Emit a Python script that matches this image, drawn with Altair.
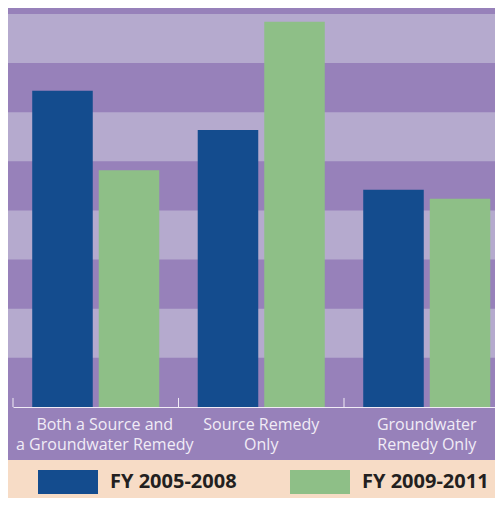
import altair as alt
import pandas as pd

categories = ["Both a Source and|a Groundwater Remedy", "Source Remedy|Only", "Groundwater|Remedy Only"]
periods = ["FY 2005-2008", "FY 2009-2011"]
values_2005_2008 = [32.2, 28.2, 22.1]
values_2009_2011 = [24.1, 39.2, 21.2]
stripe_starts = [5, 15, 25, 35]
stripe_step = 5

DARK_PURPLE = "#9781BA"
LIGHT_PURPLE = "#B5AACE"
BLUE = "#144C8E"
GREEN = "#8EBF87"
PEACH = "#F7DCC6"
LIGHT = "#F1ECF6"

rows = []
for c, v in zip(categories, values_2005_2008):
    rows.append({"category": c, "period": periods[0], "value": v})
for c, v in zip(categories, values_2009_2011):
    rows.append({"category": c, "period": periods[1], "value": v})
bars_df = pd.DataFrame(rows)
stripes_df = pd.DataFrame({"y0": stripe_starts})
cats_df = pd.DataFrame({"category": categories})

yscale = alt.Scale(domain=[0, 40.61], nice=False, zero=True)
xscale = alt.Scale(domain=categories, paddingInner=0, paddingOuter=0)

x_axis = alt.Axis(
    labelExpr="split(datum.label, '|')",
    labelAngle=0, ticks=False, domainColor=LIGHT, domainWidth=1,
    labelColor=LIGHT, labelFont="Open Sans", labelFontSize=16,
    labelLineHeight=20.5, labelPadding=9, labelLimit=400,
    labelOverlap=False, labelBound=False,
    labelOffset={"condition": {"test": "datum.value === 'Both a Source and|a Groundwater Remedy'", "value": 9}, "value": 0},
)

peach = alt.Chart(pd.DataFrame({"a": [0]})).mark_rect(color=PEACH).encode(
    x=alt.value(-5), x2=alt.value(500), y=alt.value(452), y2=alt.value(495)
)

stripes = alt.Chart(stripes_df).mark_rect(color=LIGHT_PURPLE).transform_calculate(
    y1=f"datum.y0 + {stripe_step}"
).encode(
    x=alt.value(-5), x2=alt.value(500),
    y=alt.Y("y0:Q", scale=yscale, axis=None),
    y2="y1:Q",
)

bars = alt.Chart(bars_df).mark_bar().encode(
    x=alt.X("category:N", sort=categories, scale=xscale, title=None, axis=x_axis),
    xOffset=alt.XOffset("period:N", sort=periods,
                        scale=alt.Scale(paddingInner=0.0902, paddingOuter=0.289)),
    y=alt.Y("value:Q", scale=yscale, axis=None),
    color=alt.Color("period:N", sort=periods,
                    scale=alt.Scale(domain=periods, range=[BLUE, GREEN]),
                    legend=alt.Legend(
                        orient="none", legendX=25, legendY=444, direction="horizontal",
                        title=None, symbolType="M-1,-0.4H1V0.4H-1Z", symbolSize=3600,
                        symbolStrokeWidth=0, symbolOpacity=1,
                        labelFont="Open Sans", labelFontWeight="bold", labelFontSize=20,
                        labelColor="#231F20", labelOffset=12, columnPadding=53,
                        padding=0, labelLimit=400,
                    )),
)

ticks = alt.Chart(cats_df).mark_rule(color=LIGHT, strokeWidth=1).transform_calculate(
    t0="0", t1="0.92"
).encode(
    x=alt.X("category:N", sort=categories, scale=xscale, bandPosition=0, title=None, axis=x_axis),
    y=alt.Y("t0:Q", scale=yscale, axis=None),
    y2="t1:Q",
)

chart = alt.layer(stripes, peach, bars, ticks).properties(
    width=496.5, height=399,
    padding={"left": 5, "top": 0, "right": -14.5, "bottom": 91},
    autosize="none",
).configure(background=DARK_PURPLE).configure_view(stroke=None)

chart.save("out.html", embed_options={"renderer": "svg", "actions": False})
